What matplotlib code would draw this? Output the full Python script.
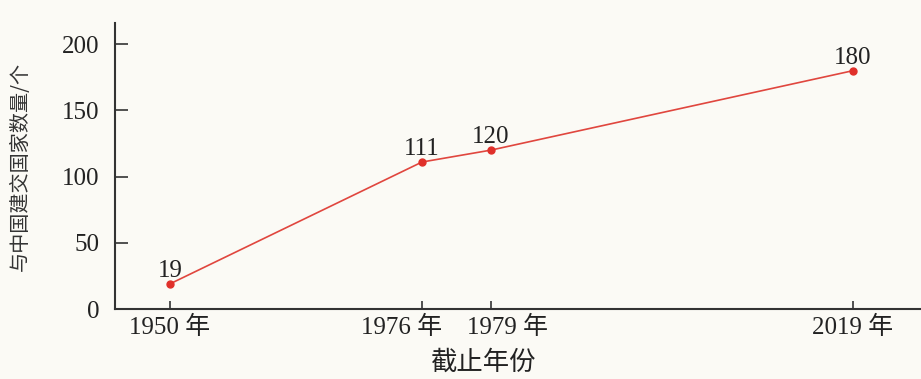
import numpy as np
import matplotlib.pyplot as plt
from matplotlib.transforms import ScaledTranslation

# data
years = [1950, 1976, 1979, 2019]
counts = [19, 111, 120, 180]
tick_labels = ['1950 年', '1976 年', '1979 年', '2019 年']

num_font = ['Liberation Serif', 'Noto Sans CJK SC']
cjk_font = ['Noto Sans CJK SC', 'DejaVu Sans']

# the original stretches the gap 1976-1979, so use a piecewise linear x scale
brk_year = [1944, 1950, 1976, 1979, 2019, 2027]
brk_pos = [115, 170, 422, 491, 853, 921]


def fwd(x):
    return np.interp(x, brk_year, brk_pos)


def inv(x):
    return np.interp(x, brk_pos, brk_year)


bg = '#fbfaf5'
fig = plt.figure(figsize=(9.21, 3.79), dpi=100, facecolor=bg)
ax = fig.add_axes([115/921, 70/379, 1 - 115/921, (309 - 23)/379])
ax.set_facecolor(bg)
ax.set_xscale('function', functions=(fwd, inv))

ax.plot(years, counts, color='#e0463e', lw=1.2, marker='o', ms=5,
        mfc='#e0302a', mec='#e0302a', zorder=3)
for x, y in zip(years, counts):
    ax.annotate(str(y), (x, y), xytext=(0, 5), textcoords='offset points',
                ha='center', va='baseline', fontsize=18, family=num_font,
                color='#222222')

ax.set_xlim(1944, 2027)
ax.set_ylim(0, 216)
ax.set_xticks(years)
ax.set_xticklabels(tick_labels, family=num_font, fontsize=18)
ax.set_yticks([0, 50, 100, 150, 200])
ax.set_yticklabels(['0', '50', '100', '150', '200'], family=num_font, fontsize=18)
ax.tick_params(axis='x', direction='in', length=6, width=1.2, pad=5,
               colors='#333333', labelcolor='#222222')
ax.tick_params(axis='y', direction='in', length=9.5, width=1.2, pad=11,
               colors='#333333', labelcolor='#222222')

# push the two crowded labels apart like the original
nudge = {1: -0.2, 2: 0.16}
for i, lab in enumerate(ax.get_xticklabels()):
    if i in nudge:
        lab.set_transform(lab.get_transform()
                          + ScaledTranslation(nudge[i], 0, fig.dpi_scale_trans))

for s in ['top', 'right']:
    ax.spines[s].set_visible(False)
for s in ['left', 'bottom']:
    ax.spines[s].set_color('#333333')
    ax.spines[s].set_linewidth(1.5)

ax.set_ylabel('与中国建交国家数量/个', family=cjk_font, fontsize=14.5,
              color='#333333', va='center')
ax.yaxis.set_label_coords(-95/806, 0.5)
ax.set_xlabel('截止年份', family=cjk_font, fontsize=19, color='#222222',
              va='center')
ax.xaxis.set_label_coords((483 - 115)/806, -53/286)

fig.savefig('out.png', dpi=100, facecolor=bg)
